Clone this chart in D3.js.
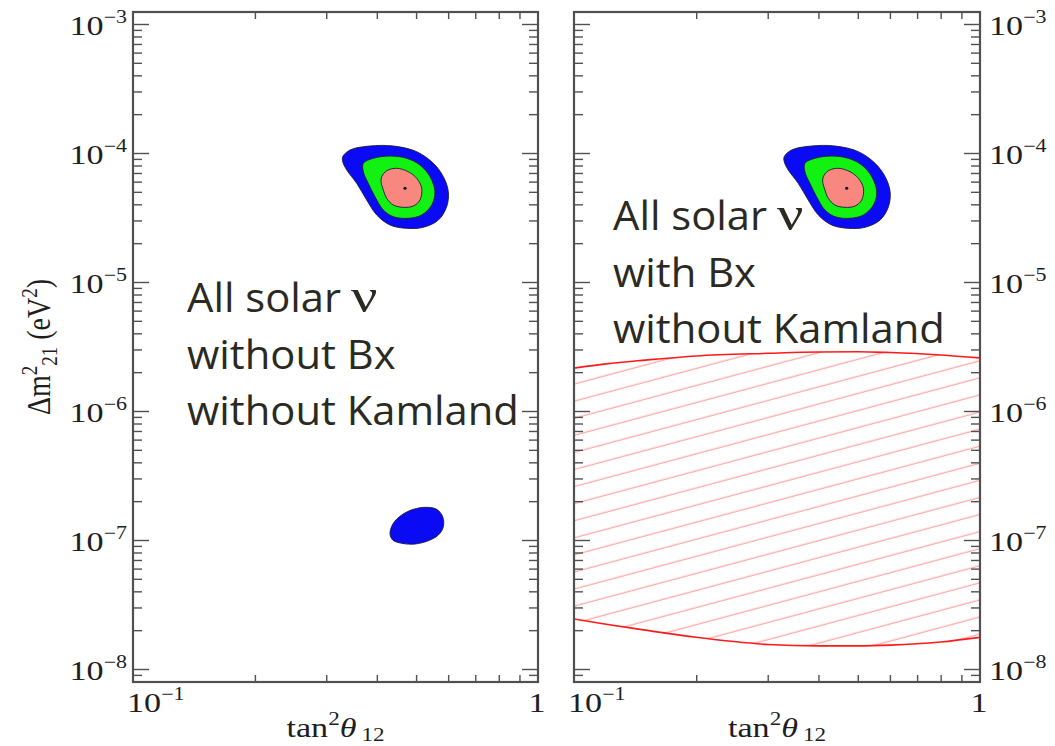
<!DOCTYPE html>
<html>
<head>
<meta charset="utf-8">
<script src="https://cdn.jsdelivr.net/npm/d3@7"></script>
<style>
  body { margin: 0; background: #fff; }
  svg { display: block; }
</style>
</head>
<body>
<svg id="chart" width="1055" height="746"></svg>
<script>
// ---- allowed regions in the (tan^2 theta12, Delta m^2_21 [eV^2]) plane ----
const bestFit = [0.4695, 5.33e-5];

// 99.73% CL (outer, blue)
const region3s = [
  [0.3295, 9.36e-5], [0.3435, 1.055e-4], [0.3848, 1.133e-4], [0.4393, 1.133e-4],
  [0.5017, 1.024e-4], [0.5515, 8.32e-5], [0.5838, 6.55e-5], [0.6006, 5.01e-5],
  [0.5950, 3.835e-5], [0.5675, 3.024e-5], [0.5212, 2.655e-5], [0.4739, 2.606e-5],
  [0.4311, 2.766e-5], [0.3997, 3.307e-5], [0.3776, 4.32e-5], [0.3567, 5.82e-5],
  [0.3371, 7.38e-5], [0.3295, 8.56e-5]
];
// 95% CL (green)
const region2s = [
  [0.3704, 8.32e-5], [0.3920, 9.1e-5], [0.4311, 9.48e-5], [0.4739, 9.1e-5],
  [0.5112, 8.07e-5], [0.5413, 6.55e-5], [0.5567, 5.01e-5], [0.5464, 3.95e-5],
  [0.5163, 3.307e-5], [0.4784, 3.117e-5], [0.4393, 3.208e-5], [0.4150, 3.614e-5],
  [0.3958, 4.58e-5], [0.3810, 5.82e-5], [0.3704, 7.16e-5]
];
// 90% CL (inner, pink)
const region1s = [
  [0.4113, 6.55e-5], [0.4231, 7.29e-5], [0.4478, 7.61e-5], [0.4784, 7.16e-5],
  [0.5017, 6.37e-5], [0.5163, 5.33e-5], [0.5112, 4.32e-5], [0.4922, 3.88e-5],
  [0.4649, 3.79e-5], [0.4393, 3.95e-5], [0.4231, 4.45e-5], [0.4150, 5.17e-5],
  [0.4097, 5.99e-5]
];
// LOW solution island (99.73% CL only)
const regionLow = [
  [0.4311, 1.126e-7], [0.4393, 1.346e-7], [0.4608, 1.562e-7], [0.4922, 1.728e-7],
  [0.5312, 1.792e-7], [0.5623, 1.728e-7], [0.5817, 1.515e-7], [0.5838, 1.268e-7],
  [0.5675, 1.093e-7], [0.5360, 9.88e-8], [0.4970, 9.31e-8], [0.4608, 9.43e-8],
  [0.4377, 1.0e-7]
];

// band excluded by the Borexino day/night measurement
const bandTan   = [0.1, 0.12, 0.15, 0.2, 0.3, 0.4, 0.5, 0.6, 0.8, 1.0];
const bandUpper = [2.15e-6, 2.32e-6, 2.48e-6, 2.67e-6, 2.80e-6, 2.87e-6, 2.88e-6, 2.84e-6, 2.72e-6, 2.58e-6];
const bandLower = [2.44e-8, 2.22e-8, 2.00e-8, 1.76e-8, 1.55e-8, 1.51e-8, 1.51e-8, 1.53e-8, 1.62e-8, 1.76e-8];

// axes
const yDecades = [-3, -4, -5, -6, -7, -8];
const xMinor = [0.2, 0.3, 0.4, 0.5, 0.6, 0.7, 0.8, 0.9];
const yLabelText = "\u0394m";
const xLabelText = "tan";

// annotation lines
const notesLeft  = ["without Bx", "without Kamland"];
const notesRight = ["with Bx", "without Kamland"];
const noteHead = "All solar";

// ---- layout ----
const W = 1055, H = 746;
const SX = 1.22;            // horizontal stretch of the typeset text
const plotTop = 12, plotBottom = 682;
const panels = [
  { x0: 133, x1: 538, labelsLeft: true,  low: true,  band: false, notes: notesLeft,  noteX: 187, noteY: 312 },
  { x0: 574, x1: 980, labelsLeft: false, low: false, band: true,  notes: notesRight, noteX: 613, noteY: 230 }
];

const svg = d3.select("#chart");
svg.append("rect").attr("width", W).attr("height", H).attr("fill", "#fff");

const y = d3.scaleLog()
  .domain([Math.pow(10, -8.1008), Math.pow(10, -2.907)])
  .range([plotBottom, plotTop]);

const serif = "'Liberation Serif', 'Times New Roman', serif";
const sans = "'Open Sans', 'Noto Sans', sans-serif";
const frameColor = "#505050";

const yMajor = yDecades.map(e => Math.pow(10, e));
const yMinor = [];
for (let e = -9; e <= -3; e++) for (let k = 2; k <= 9; k++) {
  const v = k * Math.pow(10, e);
  if (v > y.domain()[0] && v < y.domain()[1]) yMinor.push(v);
}

const defs = svg.append("defs");
defs.append("pattern")
  .attr("id", "hatch")
  .attr("patternUnits", "userSpaceOnUse")
  .attr("width", 200).attr("height", 16.5)
  .attr("patternTransform", "rotate(-15)")
  .append("line")
  .attr("x1", 0).attr("x2", 200).attr("y1", 8).attr("y2", 8)
  .attr("stroke", "#ff8c8c").attr("stroke-width", 1.1);

function powerLabel(g, px, py, exp, anchor) {
  const t = g.append("text")
    .attr("transform", `translate(${px},${py}) scale(${SX},1)`)
    .attr("text-anchor", anchor)
    .attr("font-family", serif)
    .attr("font-size", 28)
    .attr("fill", "#1e1e1e");
  if (exp === 0) { t.text("1"); return; }
  t.append("tspan").text("10");
  t.append("tspan").attr("font-size", 18).attr("dy", -12).text("\u2212" + Math.abs(exp));
}

panels.forEach((p, i) => {
  const g = svg.append("g");
  const x = d3.scaleLog().domain([0.1, 1]).range([p.x0, p.x1]);

  const clipId = "clip" + i;
  defs.append("clipPath").attr("id", clipId)
    .append("rect").attr("x", p.x0).attr("y", plotTop)
    .attr("width", p.x1 - p.x0).attr("height", plotBottom - plotTop);

  const plot = g.append("g").attr("clip-path", `url(#${clipId})`);

  // excluded band
  if (p.band) {
    const band = bandTan.map((t, k) => ({ t, lo: bandLower[k], hi: bandUpper[k] }));
    plot.append("path")
      .datum(band)
      .attr("d", d3.area().curve(d3.curveMonotoneX)
        .x(d => x(d.t)).y0(d => y(d.lo)).y1(d => y(d.hi)))
      .attr("fill", "url(#hatch)");
    ["hi", "lo"].forEach(key => {
      plot.append("path")
        .datum(band)
        .attr("d", d3.line().curve(d3.curveMonotoneX).x(d => x(d.t)).y(d => y(d[key])))
        .attr("fill", "none").attr("stroke", "#ff1a1a").attr("stroke-width", 1.6);
    });
  }

  // confidence regions
  const contour = d3.line().curve(d3.curveCatmullRomClosed.alpha(0.5))
    .x(d => x(d[0])).y(d => y(d[1]));
  const layers = [
    [region3s, "#0a0af5"],
    [region2s, "#12f212"],
    [region1s, "#f7877f"]
  ];
  if (p.low) layers.push([regionLow, "#0a0af5"]);
  layers.forEach(([pts, col]) => {
    plot.append("path").datum(pts).attr("d", contour)
      .attr("fill", col).attr("stroke", "#1a1a3a").attr("stroke-width", 0.9);
  });
  plot.append("circle")
    .attr("cx", x(bestFit[0])).attr("cy", y(bestFit[1])).attr("r", 1.6)
    .attr("fill", "#111");

  // ticks on all four sides, pointing inward
  const axes = g.append("g");
  const mk = (gen, tx, ty) => {
    const a = axes.append("g").attr("transform", `translate(${tx},${ty})`).call(gen);
    a.select(".domain").remove();
    a.selectAll("line").attr("stroke", frameColor).attr("stroke-width", 1.4);
  };
  mk(d3.axisLeft(y).tickValues(yMajor).tickSize(-16).tickFormat(""), p.x0, 0);
  mk(d3.axisLeft(y).tickValues(yMinor).tickSize(-9).tickFormat(""), p.x0, 0);
  mk(d3.axisRight(y).tickValues(yMajor).tickSize(-16).tickFormat(""), p.x1, 0);
  mk(d3.axisRight(y).tickValues(yMinor).tickSize(-9).tickFormat(""), p.x1, 0);
  mk(d3.axisBottom(x).tickValues(xMinor).tickSize(-7).tickFormat(""), 0, plotBottom);
  mk(d3.axisTop(x).tickValues(xMinor).tickSize(-7).tickFormat(""), 0, plotTop);

  g.append("rect")
    .attr("x", p.x0).attr("y", plotTop)
    .attr("width", p.x1 - p.x0).attr("height", plotBottom - plotTop)
    .attr("fill", "none").attr("stroke", frameColor).attr("stroke-width", 2.2);

  // y tick labels
  yDecades.forEach(e => {
    if (p.labelsLeft) powerLabel(g, p.x0 - 6, y(Math.pow(10, e)) + 11, e, "end");
    else powerLabel(g, p.x1 + 9, y(Math.pow(10, e)) + 11, e, "start");
  });
  // x tick labels
  powerLabel(g, x(0.1) - 6, 712, -1, "start");
  powerLabel(g, x(1) - 1, 712, 0, "middle");

  // x axis title
  const xt = g.append("text")
    .attr("transform", `translate(${(p.x0 + p.x1) / 2},737) scale(${SX},1)`)
    .attr("text-anchor", "middle")
    .attr("font-family", serif).attr("font-size", 28).attr("fill", "#1e1e1e");
  xt.append("tspan").text(xLabelText);
  xt.append("tspan").attr("font-size", 19).attr("dy", -12).text("2");
  xt.append("tspan").attr("font-style", "italic").attr("dy", 12).text("\u03b8");
  xt.append("tspan").attr("font-size", 19).attr("dx", 4).attr("dy", 4).text("12");

  // annotation
  const note = g.append("g").attr("fill", "#2b2a22");
  const head = note.append("text")
    .attr("font-family", sans).attr("font-size", 40)
    .text(noteHead);
  const nu = note.append("text")
    .attr("font-family", serif).attr("font-size", 48)
    .text("\u03bd");
  const lines = p.notes.map(s => note.append("text")
    .attr("font-family", sans).attr("font-size", 40).text(s));
  const ref = lines[lines.length - 1].node().getComputedTextLength();
  const k = 332 / ref;
  head.attr("transform", `translate(${p.noteX},${p.noteY}) scale(${k},1)`);
  const headW = head.node().getComputedTextLength() * k;
  nu.attr("transform", `translate(${p.noteX + headW + 10},${p.noteY}) scale(${SX},1)`);
  lines.forEach((l, j) => l.attr("transform",
    `translate(${p.noteX},${p.noteY + 56.5 * (j + 1)}) scale(${k},1)`));
});

// y axis title
const yt = svg.append("text")
  .attr("transform", `translate(50,347) scale(${SX},1) rotate(-90)`)
  .attr("text-anchor", "middle")
  .attr("font-family", serif).attr("font-size", 28).attr("fill", "#1e1e1e");
yt.append("tspan").text(yLabelText);
yt.append("tspan").attr("font-size", 19).attr("dy", -11).text("2");
yt.append("tspan").attr("font-size", 19).attr("dy", 17).text("21");
yt.append("tspan").attr("dy", -6).text(" (eV");
yt.append("tspan").attr("font-size", 19).attr("dy", -11).text("2");
yt.append("tspan").attr("dy", 11).text(")");
</script>
</body>
</html>
